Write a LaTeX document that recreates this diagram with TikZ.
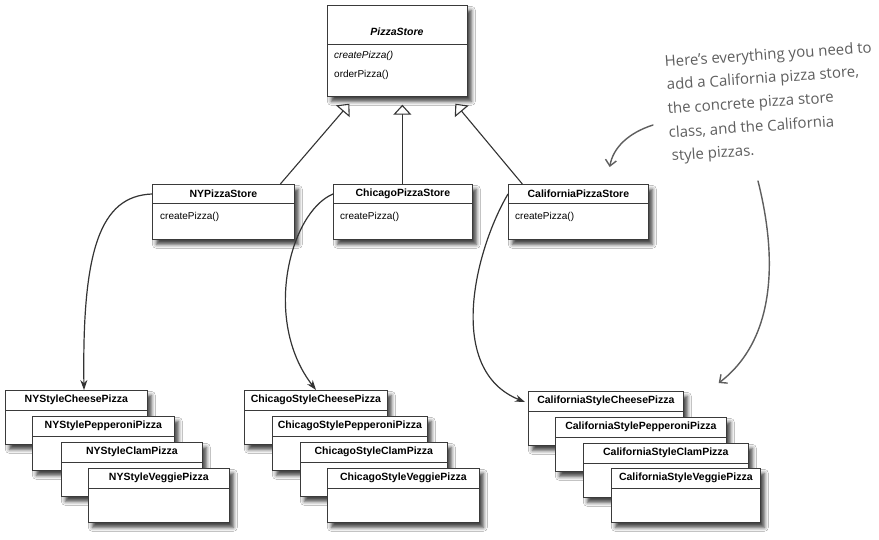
\documentclass[tikz,border=0pt]{standalone}
\usepackage{fontspec}
\setmainfont{Liberation Sans}
\newfontfamily\hand{Open Sans}
\usetikzlibrary{arrows.meta,shadows.blur,calc}
\definecolor{linegray}{HTML}{333333}
\definecolor{boxgray}{HTML}{3A3A3A}
\definecolor{pen}{HTML}{5E5E5E}
\tikzset{
  cls/.style={draw=boxgray, line width=0.7pt, fill=white, rectangle, inner sep=0pt,
     blur shadow={shadow xshift=4pt, shadow yshift=-5pt, shadow blur radius=4pt, shadow opacity=75}},
  divline/.style={draw=boxgray, line width=0.6pt},
  ttl/.style={font=\bfseries\fontsize{10.5}{12}\selectfont, inner sep=0pt},
  mth/.style={font=\fontsize{10}{12}\selectfont, inner sep=0pt, anchor=west},
  inh/.style={linegray, line width=1.1pt, -{Triangle[open, length=10pt, width=18pt, fill=white]}},
  cre/.style={linegray, line width=1.2pt, -{Stealth[length=10pt, width=7pt]}},
  note/.style={pen, line width=1.4pt, line cap=round, -{Straight Barb[length=6pt, width=11pt]}},
  notetext/.style={pen, font=\hand\fontsize{15}{18}\selectfont, inner sep=0pt, rotate=4, anchor=base west},
}
\newcommand\pizzabox[5]{%
  \node[cls, anchor=north west, minimum width=#4pt, minimum height=54pt] (#1) at (#2,#3) {};
  \draw[divline] ([yshift=-20pt]#1.north west) -- ([yshift=-20pt]#1.north east);
  \node[ttl] (#1-t) at ([yshift=-10pt]#1.north) {#5};
}
\newcommand\storebox[4]{%
  \node[cls, anchor=north west, minimum width=#4pt, minimum height=55pt] (#1) at (#2,#3) {};
  \draw[divline] ([yshift=-19pt]#1.north west) -- ([yshift=-19pt]#1.north east);
}
\begin{document}
\begin{tikzpicture}[x=1pt, y=-1pt]
\useasboundingbox[fill=white] (0,0) rectangle (879,539);

% abstract class
\node[cls, anchor=north west, minimum width=140pt, minimum height=91pt] (ps) at (327,5) {};
\draw[divline] ([yshift=-39pt]ps.north west) -- ([yshift=-39pt]ps.north east);
\node[font=\bfseries\itshape\fontsize{10.5}{12}\selectfont, inner sep=0pt, anchor=base] (ps-t) at (397,35) {PizzaStore};
\node[mth, font=\itshape\fontsize{10}{12}\selectfont] (ps-m1) at (334,56) {createPizza()};
\node[mth] (ps-m2) at (334,75) {orderPizza()};

% concrete stores
\storebox{ny}{152}{184}{142}
\node[ttl] (ny-t) at ([yshift=-10pt]ny.north) {NYPizzaStore};
\node[mth] (ny-m) at (160,217) {createPizza()};
\storebox{chi}{333}{184}{139}
\node[ttl] (chi-t) at ([yshift=-10pt]chi.north) {ChicagoPizzaStore};
\node[mth] (chi-m) at (340,217) {createPizza()};
\storebox{cal}{508}{184}{140}
\node[ttl] (cal-t) at ([yshift=-10pt]cal.north) {CaliforniaPizzaStore};
\node[mth] (cal-m) at (515,217) {createPizza()};

% inheritance
\draw[inh] ([xshift=57pt]ny.north) -- ([xshift=-48pt,yshift=-7pt]ps.south);
\draw[inh] ([xshift=-0.5pt]chi.north) -- ([xshift=5pt,yshift=-8pt]ps.south);
\draw[inh] ([xshift=-56pt]cal.north) -- ([xshift=58pt,yshift=-7pt]ps.south);

% NY pizzas
\pizzabox{nyc1}{5}{390}{142}{NYStyleCheesePizza}
\pizzabox{nyc2}{32}{416}{142}{NYStylePepperoniPizza}
\pizzabox{nyc3}{61}{442}{141}{NYStyleClamPizza}
\pizzabox{nyc4}{88}{468}{141}{NYStyleVeggiePizza}

% Chicago pizzas
\pizzabox{chc1}{244}{390}{143}{ChicagoStyleCheesePizza}
\pizzabox{chc2}{272}{416}{155}{ChicagoStylePepperoniPizza}
\pizzabox{chc3}{300}{442}{147}{ChicagoStyleClamPizza}
\pizzabox{chc4}{327}{468}{152}{ChicagoStyleVeggiePizza}

% California pizzas
\pizzabox{cac1}{528}{391}{155}{CaliforniaStyleCheesePizza}
\pizzabox{cac2}{555}{417}{171}{CaliforniaStylePepperoniPizza}
\pizzabox{cac3}{583}{443}{165}{CaliforniaStyleClamPizza}
\pizzabox{cac4}{611}{468}{149}{CaliforniaStyleVeggiePizza}

% creation arrows
\draw[cre] ([yshift=-10pt]ny.north west) .. controls (100,196) and (82,250) .. ([xshift=79pt]nyc1.north west);
\draw[cre] ([yshift=-10pt]chi.north west) .. controls (290,212) and (262,320) .. ([xshift=72pt]chc1.north west);
\draw[cre] ([yshift=-10pt]cal.north west) .. controls (475,250) and (445,370) .. ([xshift=-3pt,yshift=-11pt]cac1.north west);

% handwritten note
\node[notetext] (note1) at (665,67) {Here’s everything you need to};
\node[notetext] (note2) at (667,90) {add a California pizza store,};
\node[notetext] (note3) at (668,114) {the concrete pizza store};
\node[notetext] (note4) at (669,138) {class, and the California};
\node[notetext] (note5) at (672,161) {style pizzas.};
\coordinate (n1) at (653,125);
\coordinate (n2) at (758,181);
\draw[note] (n1) .. controls (628,133) and (613,148) .. ([xshift=-39pt,yshift=17pt]cal.north east);
\draw[note] (n2) .. controls (778,260) and (775,340) .. ([xshift=35pt,yshift=8pt]cac1.north east);
\end{tikzpicture}
\end{document}
